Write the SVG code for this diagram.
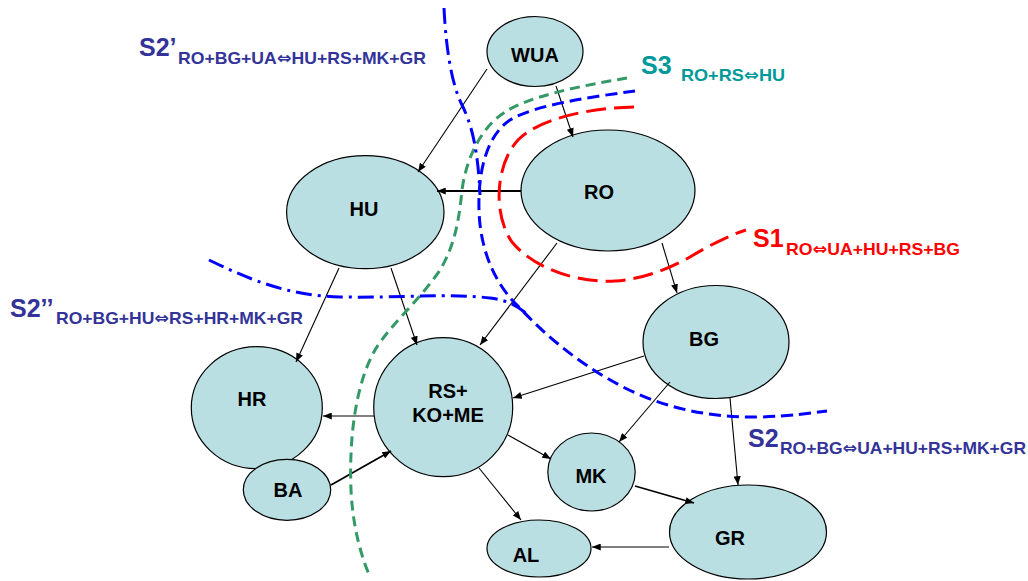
<svg xmlns="http://www.w3.org/2000/svg" width="1028" height="581" viewBox="0 0 1028 581">
<defs>
<marker id="ah" viewBox="0 0 10 8" markerWidth="9" markerHeight="7" refX="10" refY="4" orient="auto" markerUnits="userSpaceOnUse">
<path d="M0,0 L10,4 L0,8 z" fill="#000"/>
</marker>
<style>
.node ellipse{fill:#B9DFE2;stroke:#000;stroke-width:1.2}
.node text{font-family:"Liberation Sans",Arial,sans-serif;font-weight:bold;font-size:20px;fill:#000;text-anchor:middle}
.conn path{fill:none;stroke:#000;stroke-width:1.1;marker-end:url(#ah)}
.conn path.thick{stroke-width:1.8}
.cut{fill:none;stroke-width:3}
.green{stroke:#339966;stroke-dasharray:10 6}
.blue{stroke:#0000FF;stroke-dasharray:12 6}
.red{stroke:#FF0000;stroke-dasharray:20 8}
.dashdot{stroke:#0000FF;stroke-dasharray:16 6 3 6}
.lbl{font-family:"Liberation Sans",Arial,"DejaVu Sans",sans-serif;font-weight:bold}
.big{font-size:25px}
.sub{font-size:17px}
.arr{font-family:"DejaVu Sans",sans-serif;font-size:17px}
.c2{fill:#333399}
.c3{fill:#009999}
.c1{fill:#FF0000}
</style>
</defs>
<rect width="1028" height="581" fill="#fff"/>

<g id="nodes">
<g id="node-HR" class="node"><ellipse cx="256.8" cy="407.7" rx="65.5" ry="61"/><text x="252" y="406">HR</text></g>
<g id="node-BA" class="node"><ellipse cx="287" cy="489.8" rx="43.7" ry="30.5"/><text x="288" y="497">BA</text></g>
<g id="node-WUA" class="node"><ellipse cx="535" cy="51.5" rx="48" ry="35"/><text x="535" y="62">WUA</text></g>
<g id="node-RO" class="node"><ellipse cx="608" cy="190.5" rx="87" ry="60.5"/><text x="599" y="199">RO</text></g>
<g id="node-HU" class="node"><ellipse cx="365.3" cy="212.2" rx="78.7" ry="56.5"/><text x="364" y="216">HU</text></g>
<g id="node-RS" class="node"><ellipse cx="443.2" cy="407.2" rx="69.5" ry="69.5"/><text x="448" y="398">RS+</text><text x="448" y="422">KO+ME</text></g>
<g id="node-BG" class="node"><ellipse cx="716" cy="342" rx="73" ry="56.5"/><text x="704" y="346">BG</text></g>
<g id="node-MK" class="node"><ellipse cx="591.5" cy="472" rx="43.7" ry="39"/><text x="591" y="483">MK</text></g>
<g id="node-GR" class="node"><ellipse cx="748" cy="532" rx="78.5" ry="47"/><text x="730" y="545">GR</text></g>
<g id="node-AL" class="node"><ellipse cx="539" cy="548.5" rx="52" ry="28.5"/><text x="526" y="562">AL</text></g>
</g>

<g id="connectors" class="conn">
<path d="M487,69 L418,172"/>
<path d="M556,86 L573,137"/>
<path class="thick" d="M521,191 L437,191"/>
<path d="M557,243 L480,345"/>
<path d="M662,243 L677,293"/>
<path d="M339,268 L296,362"/>
<path d="M391,268 L417,345"/>
<path d="M374,416 L323,416"/>
<path class="thick" d="M331,485 L391,451"/>
<path d="M644,356 L513,398"/>
<path d="M670,382 L619,442"/>
<path d="M730,398 L738,485"/>
<path d="M508,435 L551,459"/>
<path d="M479,468 L521,520"/>
<path class="thick" d="M635,486 L694,503"/>
<path d="M669,547 L592,547"/>
</g>

<g id="cuts">
<path class="cut green" d="M627,78 C 580,86 530,96 505,112 C 480,128 466,160 462,190 C 459,220 455,245 440,270 C 420,300 390,325 375,350 C 355,385 349,440 351,490 C 353,530 362,558 370,577"/>
<path class="cut blue" d="M635,91 C 590,97 535,105 510,120 C 485,137 478,175 479,210 C 480,250 495,285 520,308 C 545,335 580,365 625,388 C 665,408 710,418 760,417 C 790,416 812,413 827,411"/>
<path class="cut red" d="M634,107 C 590,108 540,118 518,140 C 495,165 493,215 512,242 C 535,270 580,283 615,281 C 645,279 670,268 690,257 C 710,245 730,235 746,230"/>
<path class="cut dashdot" d="M444,8 C 446,50 452,85 462,105 C 472,125 478,150 480,195"/>
<path class="cut dashdot" d="M209,260 C 250,280 290,296 340,297 C 400,298 450,293 490,298 C 505,300 515,304 527,314"/>
</g>

<g id="labels" class="lbl">
<text class="big c2" x="139" y="56">S2’</text>
<text class="sub c2" x="178" y="64" textLength="248" lengthAdjust="spacingAndGlyphs">RO+BG+UA<tspan class="arr">⇔</tspan>HU+RS+MK+GR</text>
<text class="big c2" x="10" y="317">S2’’</text>
<text class="sub c2" x="56" y="324" textLength="247" lengthAdjust="spacingAndGlyphs">RO+BG+HU<tspan class="arr">⇔</tspan>RS+HR+MK+GR</text>
<text class="big c2" x="748" y="447">S2</text>
<text class="sub c2" x="780" y="454" textLength="246" lengthAdjust="spacingAndGlyphs">RO+BG<tspan class="arr">⇔</tspan>UA+HU+RS+MK+GR</text>
<text class="big c1" x="753" y="247">S1</text>
<text class="sub c1" x="786" y="255" textLength="174" lengthAdjust="spacingAndGlyphs">RO<tspan class="arr">⇔</tspan>UA+HU+RS+BG</text>
<text class="big c3" x="641" y="74">S3</text>
<text class="sub c3" x="681" y="81" textLength="104" lengthAdjust="spacingAndGlyphs">RO+RS<tspan class="arr">⇔</tspan>HU</text>
</g>
</svg>
